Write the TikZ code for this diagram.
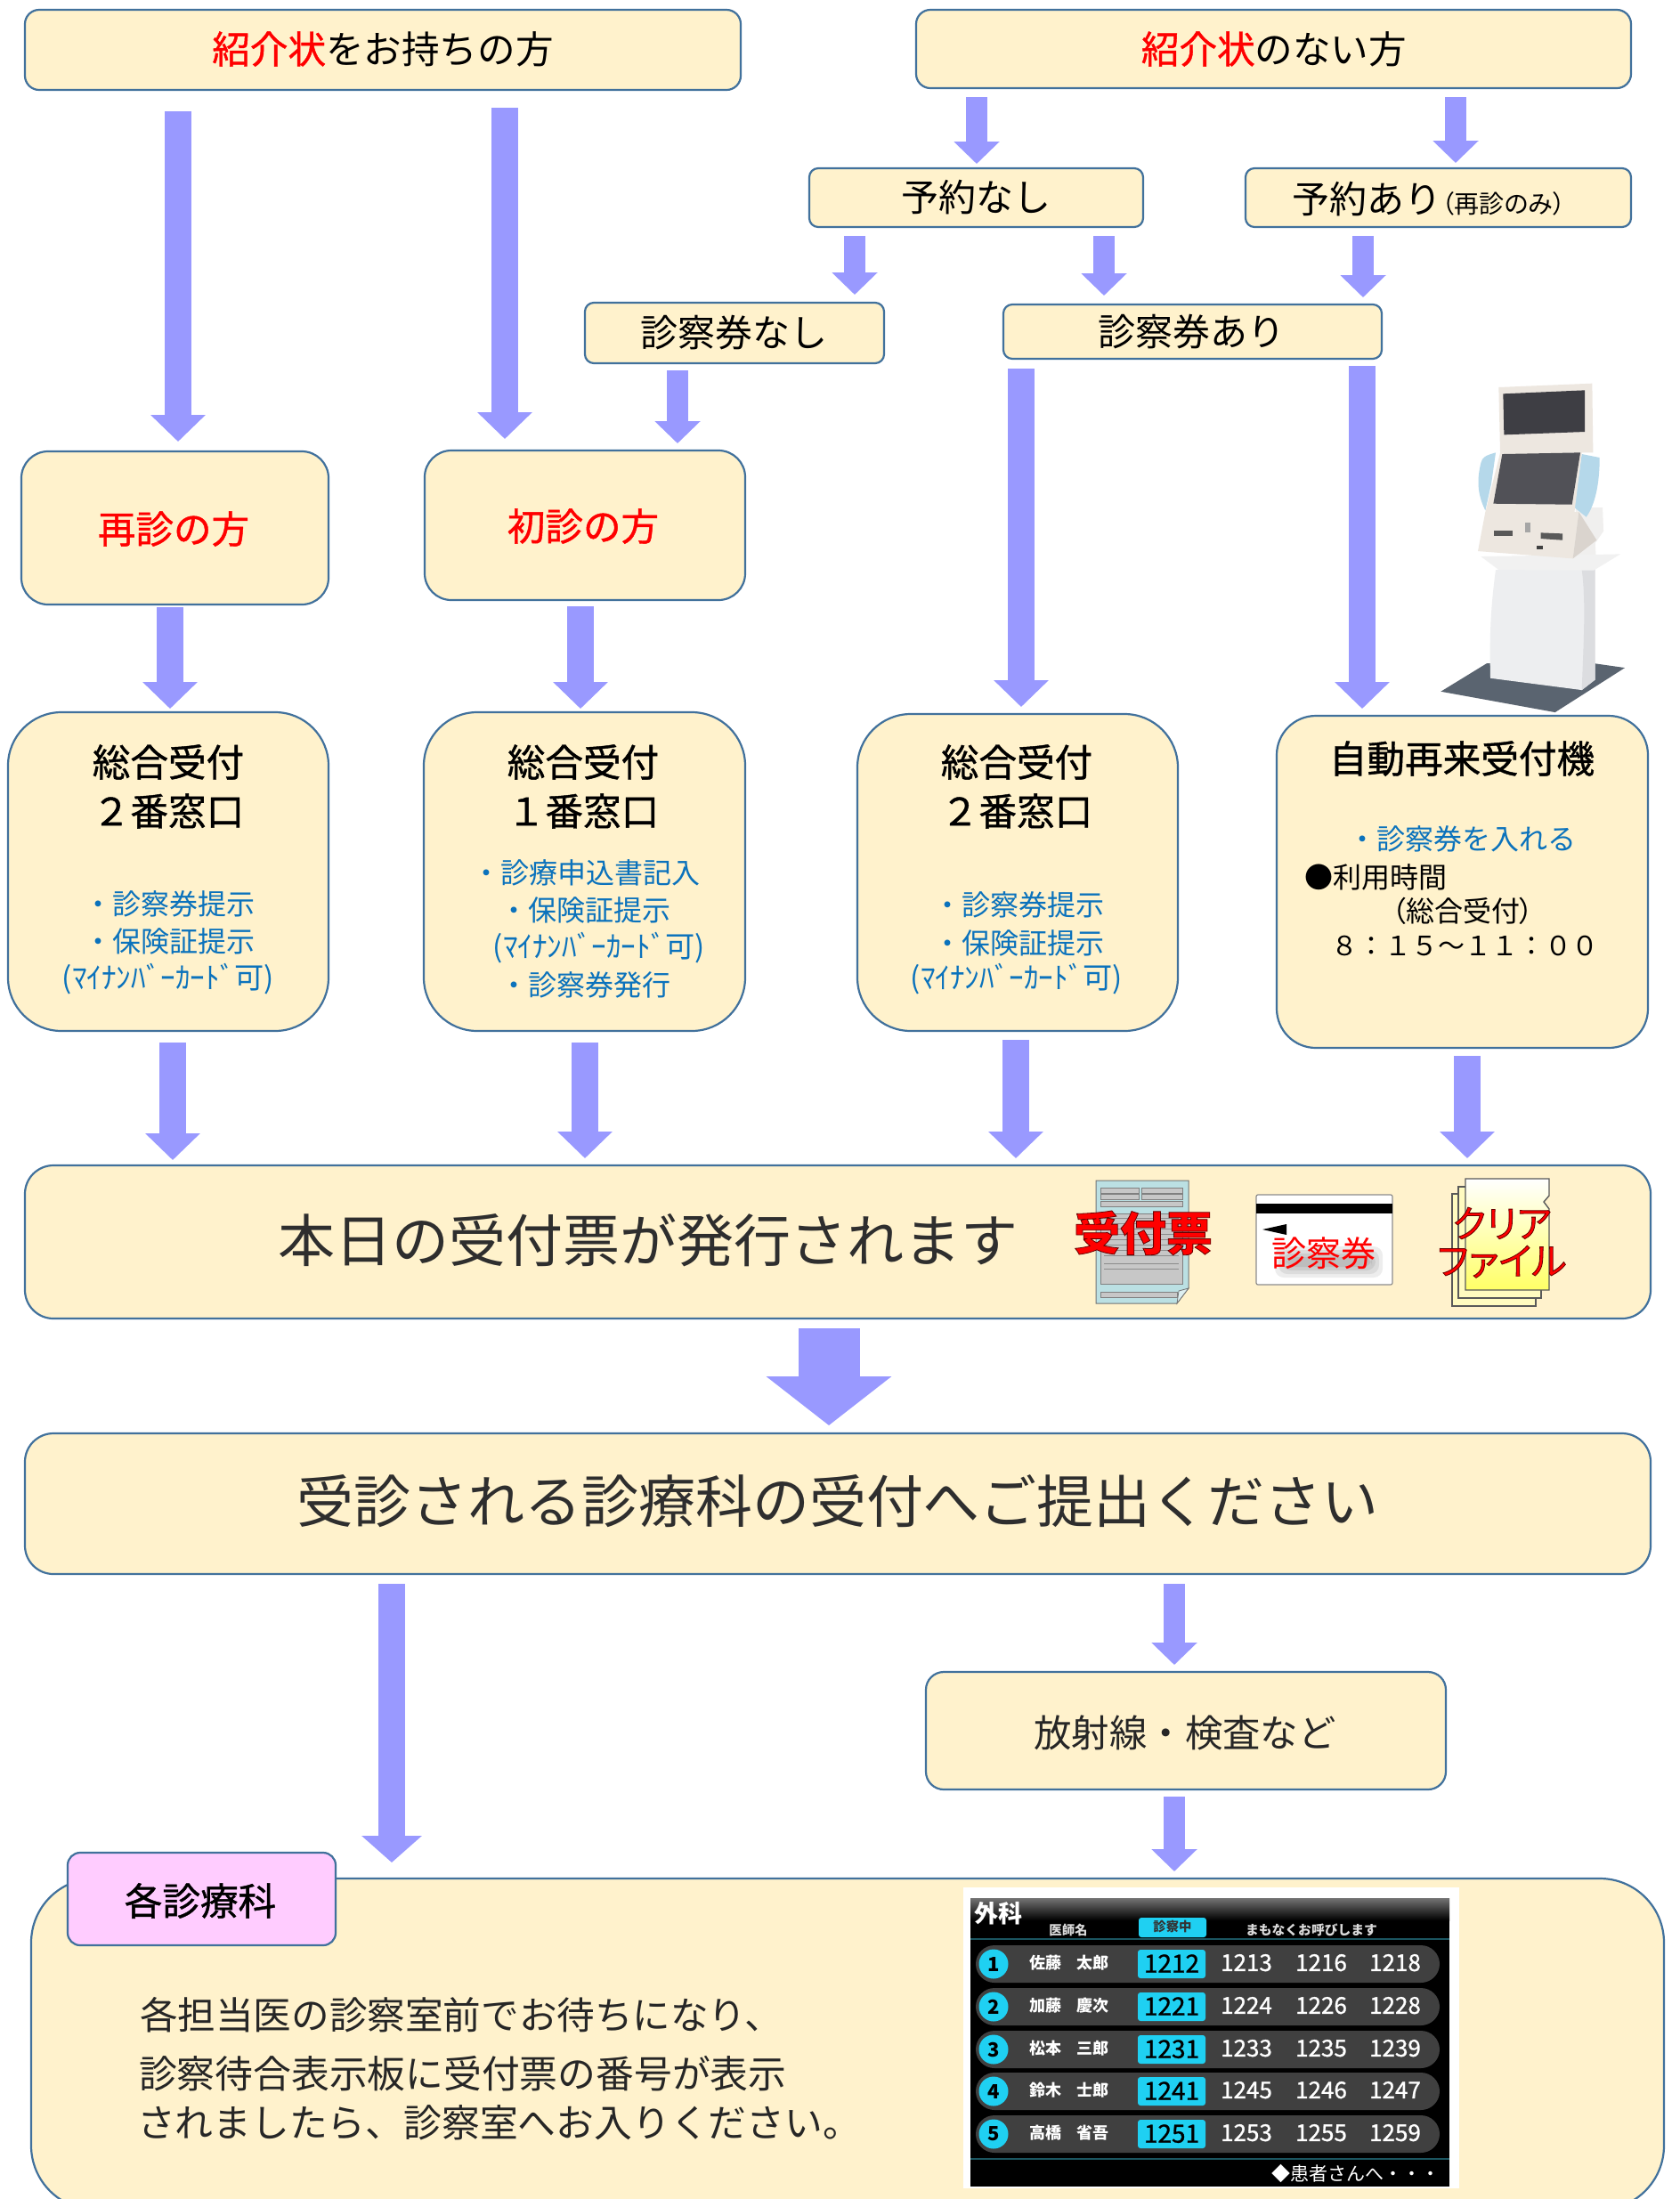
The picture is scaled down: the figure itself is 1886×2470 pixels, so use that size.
\documentclass[tikz,border=0pt]{standalone}
\usepackage{fontspec}
\setmainfont{Noto Sans CJK JP}
\newfontfamily\paltfont{Noto Sans CJK JP}[RawFeature=+palt]
\newfontfamily\medfont{Noto Sans CJK JP}[FakeBold=1.0]
\usetikzlibrary{arrows.meta}
\definecolor{boxfill}{HTML}{FFF2CC}
\definecolor{boxline}{HTML}{41719C}
\definecolor{arrowblue}{HTML}{9999FF}
\definecolor{noteblue}{HTML}{0B72BC}
\definecolor{pinkfill}{HTML}{FFCCFF}
\definecolor{cyanboard}{HTML}{1FD0F2}
\definecolor{paperblue}{HTML}{BBE0E3}
\definecolor{foldblue}{HTML}{DDEFF1}
\definecolor{sheetyellow}{HTML}{FFFBC0}
\definecolor{fileyellow}{HTML}{FFFF66}
\definecolor{kbase}{HTML}{5A6470}
\definecolor{kped}{HTML}{EDEEF0}
\definecolor{kside}{HTML}{DCDDE0}
\definecolor{kshelf}{HTML}{F1F1F1}
\definecolor{kbody}{HTML}{F0EFEE}
\definecolor{kbeige}{HTML}{EDE7E0}
\definecolor{kwing}{HTML}{B5D8EA}
\definecolor{kscreen}{HTML}{3E3E44}
\definecolor{bteal}{HTML}{1B5560}
\tikzset{
  flowbox/.style={draw=boxline,fill=boxfill,line width=1.1pt,inner sep=0pt,outer sep=0pt},
  pinkbox/.style={flowbox,fill=pinkfill},
  txt/.style={inner sep=0pt,outer sep=0pt,anchor=center},
  barrow/.style={draw=arrowblue,line width=15pt,line cap=butt,-{Triangle[length=15pt,width=30pt]}},
  sarrow/.style={draw=arrowblue,line width=12pt,line cap=butt,-{Triangle[length=12.5pt,width=25pt]}},
  bigarrow/.style={draw=arrowblue,line width=34.5pt,line cap=butt,-{Triangle[length=27.5pt,width=69pt]}},
  longarrow/.style={draw=arrowblue,line width=15pt,line cap=butt,-{Triangle[length=15pt,width=33pt]}},
  rowbar/.style={fill=black!75!white,rounded corners=10.5pt},
  cyanchip/.style={fill=cyanboard,rounded corners=1.5pt},
  sheet/.style={draw=black!65,line width=.7pt},
  paperrow/.style={fill=black!22,draw=black!50,line width=.3pt},
}
\newcommand\bx[7][flowbox]{\node[#1,rounded corners=#7pt,minimum width={(#5-#3)*0.5pt},minimum height={(#6-#4)*0.5pt}] (#2) at ({(#3+#5)/2},{(#4+#6)/2}) {};}
\newcommand\tx[6][black]{\node[txt,text=#1,font=\fontsize{#5pt}{#5pt}\selectfont,text height={#5*0.88pt},text depth={#5*0.12pt}] (#2) at (#3,#4) {#6};}
\newcommand\conn[6]{\draw[#1,shorten <={#5*0.5pt},shorten >={#6*0.5pt}] (#2.south -| #4,0) -- (#3.north -| #4,0);}
\newcommand\mycard{(ﾏｲﾅﾝﾊﾞｰｶｰﾄﾞ可)}
\newcommand\outl[1]{\special{pdf:code 2 Tr 0.4 w 0.4 0 0 RG}#1\special{pdf:code 0 Tr}}
\begin{document}
\begin{tikzpicture}[x=0.5pt,y=-0.5pt]
\useasboundingbox (0,0) rectangle (1886,2470);
\clip (0,0) rectangle (1886,2470);
\fill[white] (0,0) rectangle (1886,2470);

% boxes
\bx{A}{28}{11}{832}{101}{8}
\bx{B}{1029}{11}{1832}{99}{8}
\bx{C}{909}{189}{1284}{255}{5}
\bx{D}{1399}{189}{1832}{255}{5}
\bx{E}{657}{340}{993}{408}{5}
\bx{F}{1127}{342}{1552}{403}{5}
\bx{G}{24}{507}{369}{679}{15}
\bx{H}{477}{506}{837}{674}{15}
\bx{I}{9}{800}{369}{1158}{30}
\bx{J}{476}{800}{837}{1158}{30}
\bx{K}{963}{802}{1323}{1158}{30}
\bx{L}{1434}{804}{1851}{1177}{22}
\bx{M}{28}{1309}{1854}{1481}{16}
\bx{N}{28}{1610}{1854}{1768}{16}
\bx{O}{1040}{1878}{1624}{2010}{10}
\bx{P}{35}{2110}{1869}{2482}{36}
\bx[pinkbox]{Q}{76}{2081}{377}{2185}{7}

% connectors
\conn{barrow}{A}{G}{200}{23.5}{11}
\conn{barrow}{A}{H}{567}{20}{13}
\conn{sarrow}{B}{C}{1097}{10}{5}
\conn{sarrow}{B}{D}{1635}{10}{6}
\conn{sarrow}{C}{E}{960}{10}{9}
\conn{sarrow}{C}{F}{1240}{10}{10}
\conn{sarrow}{D}{F}{1531}{10}{8}
\conn{sarrow}{E}{H}{761}{8}{8}
\conn{barrow}{F}{K}{1147}{11}{8}
\conn{barrow}{F}{L}{1530}{8}{8}
\conn{barrow}{G}{I}{191}{3}{4}
\conn{barrow}{H}{J}{652}{7}{4}
\conn{barrow}{I}{M}{194}{13}{6}
\conn{barrow}{J}{M}{657}{13}{8}
\conn{barrow}{K}{M}{1141}{10}{8}
\conn{barrow}{L}{M}{1648}{9}{8}
\conn{bigarrow}{M}{N}{931}{11}{9}
\conn{longarrow}{N}{P}{440}{11}{18}
\conn{sarrow}{N}{O}{1319}{11}{8}
\conn{sarrow}{O}{P}{1319}{8}{8}

% top texts
\tx{tA}{430}{55}{21.3}{\textcolor{red}{\medfont 紹介状}をお持ちの方}
\tx{tB}{1431}{55}{21.3}{\textcolor{red}{\medfont 紹介状}のない方}
\tx{tC}{1096}{222}{21}{予約なし}
\tx{tD}{1605}{224}{21}{予約あり{\fontsize{14pt}{14pt}\selectfont\paltfont （再診のみ）}}
\tx{tE}{824}{374}{21}{診察券なし}
\tx{tF}{1338}{373}{21}{診察券あり}
\tx[red]{tG}{195}{594}{21.3}{\medfont 再診の方}
\tx[red]{tH}{655}{591}{21.3}{\medfont 初診の方}

% counters
\tx{tI1}{189}{856}{21.3}{\medfont 総合受付}
\tx{tI2}{189}{911}{21.3}{\medfont ２番窓口}
\tx[noteblue]{tI3}{190}{1015}{16}{・診察券提示}
\tx[noteblue]{tI4}{190}{1057}{16}{・保険証提示}
\tx[noteblue]{tI5}{189}{1098}{16.6}{\mycard}
\tx{tJ1}{655}{856}{21.3}{\medfont 総合受付}
\tx{tJ2}{655}{911}{21.3}{\medfont １番窓口}
\tx[noteblue]{tJ3}{658}{980}{16}{・診療申込書記入}
\tx[noteblue]{tJ4}{657}{1022}{16}{・保険証提示}
\tx[noteblue]{tJ5}{673}{1063}{16.6}{\mycard}
\tx[noteblue]{tJ6}{657}{1106}{16}{・診察券発行}
\tx{tK1}{1142}{856}{21.3}{\medfont 総合受付}
\tx{tK2}{1142}{911}{21.3}{\medfont ２番窓口}
\tx[noteblue]{tK3}{1144}{1016}{16}{・診察券提示}
\tx[noteblue]{tK4}{1144}{1059}{16}{・保険証提示}
\tx[noteblue]{tK5}{1142}{1098}{16.6}{\mycard}
\tx{tL1}{1642}{852}{21.3}{\medfont 自動再来受付機}
\tx[noteblue]{tL2}{1642}{942}{16}{・診察券を入れる}
\tx{tL3}{1545}{985}{16}{●利用時間}
\tx{tL4}{1643}{1023}{16}{\paltfont （総合受付）}
\tx{tL5}{1645}{1062}{15}{８：１５～１１：００}

% wide bars
\tx[black!82]{tM}{728}{1393}{32}{本日の受付票が発行されます}
\tx[black!82]{tN}{941}{1686}{32}{受診される診療科の受付へご提出ください}
\tx[black!85]{tO}{1331}{1946}{21.2}{放射線・検査など}
\tx{tQ}{225}{2135}{21.3}{\medfont 各診療科}
\node[txt,anchor=west,text=black!85,font=\fontsize{21.3pt}{21.3pt}\selectfont] (tP1) at (157,2263) {各担当医の診察室前でお待ちになり、};
\node[txt,anchor=west,text=black!85,font=\fontsize{21.4pt}{21.4pt}\selectfont] (tP2) at (156,2329) {診察待合表示板に受付票の番号が表示};
\node[txt,anchor=west,text=black!85,font=\fontsize{21.4pt}{21.4pt}\selectfont] (tP3) at (154,2384) {されましたら、診察室へお入りください。};

% receipt icon
\draw[fill=paperblue,draw=black!55,line width=.5pt] (1231,1326) -- (1335,1326) -- (1335,1447) -- (1322,1464) -- (1231,1464) -- cycle;
\foreach \a/\b/\c/\d in {1236/1334/1279/1340,1282/1334/1328/1340,1236/1341/1279/1347,1282/1341/1328/1347,1236/1349/1328/1355,1236/1363/1328/1442,1236/1451/1322/1457}
  \draw[paperrow] (\a,\b) rectangle (\c,\d);
\foreach \y in {1368,1374,...,1412,1419,1425} \draw[black!45,line width=.4pt] (1240,\y) -- (1324,\y);
\draw[fill=foldblue,draw=black!55,line width=.4pt] (1335,1447) -- (1322,1464) -- (1324,1450) -- cycle;
\tx[red]{tPaper}{1284}{1385}{26}{\bfseries\outl{受付票}}

% card icon
\draw[fill=white,draw=black!45,line width=.6pt,rounded corners=1pt] (1411,1342) rectangle (1564,1443);
\fill[black] (1411,1352) rectangle (1564,1363);
\fill[black] (1418,1381) -- (1445,1375) -- (1445,1387) -- cycle;
\foreach \g in {0,4,8,12} \fill[black,opacity=.07,rounded corners=5pt] (1432+\g,1400+\g) rectangle (1553-\g,1435-\g);
\tx[red]{tCard}{1487}{1408}{19.5}{診察券}

% clear file icon
\draw[sheet,fill=sheetyellow] (1631,1341) rectangle (1725,1467);
\draw[sheet,fill=sheetyellow] (1638,1333) rectangle (1731,1458);
\shade[top color=white,bottom color=fileyellow,draw=black!65,line width=.7pt] (1646,1324) -- (1740,1324) -- (1740,1343) -- (1734,1350) -- (1740,1358) -- (1740,1449) -- (1646,1449) -- cycle;
\tx[red]{tFile1}{1687}{1374}{21}{\paltfont\outl{クリア}}
\tx[red]{tFile2}{1687}{1416}{21}{\paltfont\outl{ファイル}}

% kiosk
\begin{scope}[shift={(1600,410)},x=0.1667pt,y=-0.1667pt]
\fill[kbase] (210,1005) -- (55,1100) -- (440,1170) -- (675,1020) -- (570,1005) -- cycle;
\fill[kped] (240,690) .. controls (225,800) and (218,900) .. (222,1055) -- (530,1095) -- (575,1060) -- (575,680) -- cycle;
\fill[kside] (530,690) .. controls (545,800) and (535,950) .. (530,1095) -- (575,1060) -- (575,680) -- cycle;
\fill[kbody] (510,480) -- (600,480) -- (603,560) -- (575,600) -- (578,650) -- (500,650) -- cycle;
\fill[kshelf] (190,645) -- (250,690) -- (570,692) -- (660,637) -- (500,640) -- cycle;
\fill[kbeige] (205,495) -- (520,495) -- (500,652) -- (180,627) -- cycle;
\fill[kbeige!92!black] (520,495) -- (580,590) -- (500,652) -- cycle;
\fill[kwing] (240,295) .. controls (205,305) and (195,310) .. (190,330) .. controls (178,380) and (175,430) .. (205,490) -- (225,400) -- cycle;
\fill[kwing] (530,300) -- (590,312) .. controls (590,400) and (575,470) .. (545,512) -- (505,480) -- cycle;
\fill[kbeige] (250,75) -- (565,62) -- (568,295) -- (530,295) -- (505,497) -- (205,495) -- (255,295) -- cycle;
\fill[kscreen] (265,97) -- (540,85) -- (540,225) -- (268,235) -- cycle;
\fill[kscreen!90!white] (262,300) -- (525,295) -- (497,470) -- (232,467) -- cycle;
\fill[black!65] (233,557) rectangle (297,577);
\fill[black!65] (392,565) -- (465,568) -- (465,590) -- (392,585) -- cycle;
\fill[black!75] (378,610) rectangle (398,622);
\fill[black!35] (338,530) rectangle (358,565);
\end{scope}

% board
\fill[white] (1082,2120) rectangle (1639,2458);
\fill[black] (1090,2132) rectangle (1628,2456);
\shade[top color=black!55,bottom color=black] (1090,2132) rectangle (1628,2157);
\tx[white]{bHead}{1121}{2149}{13.5}{\bfseries 外科}
\tx[black!15]{bDoc}{1200}{2168}{7.2}{\bfseries 医師名}
\fill[cyanchip] (1279,2154) rectangle (1355,2176);
\tx[black!80]{bNow}{1317}{2164}{7.2}{\bfseries 診察中}
\tx[black!15]{bSoon}{1473}{2168}{7.4}{\bfseries まもなくお呼びします}
\draw[bteal,line width=1pt] (1090,2178) -- (1628,2178);
\draw[bteal,line width=1pt] (1090,2425) -- (1628,2425);
\foreach \n/\y/\fa/\fb/\cur/\p/\q/\r in {1/2206/佐藤/太郎/1212/1213/1216/1218,2/2254/加藤/慶次/1221/1224/1226/1228,3/2302/松本/三郎/1231/1233/1235/1239,4/2349/鈴木/士郎/1241/1245/1246/1247,5/2397/高橋/省吾/1251/1253/1255/1259}{
  \fill[rowbar] (1096,\y-21) rectangle (1617,\y+21);
  \node[circle,fill=cyanboard,minimum size=16.5pt,inner sep=0pt,font=\fontsize{11pt}{11pt}\selectfont\bfseries,text=black] (bNum\n) at (1116,\y) {\n};
  \tx[white]{bFam\n}{1174}{\y-1}{9}{\bfseries\fa}
  \tx[white]{bGiv\n}{1227}{\y-1}{9}{\bfseries\fb}
  \fill[cyanchip] (1278,\y-16) rectangle (1354,\y+16);
  \tx[black]{bCur\n}{1316}{\y-1}{14}{\medfont\cur}
  \tx[white]{bP\n}{1400}{\y-2}{13}{\medfont\p}
  \tx[white]{bQ\n}{1484}{\y-2}{13}{\medfont\q}
  \tx[white]{bR\n}{1567}{\y-2}{13}{\medfont\r}
}
\node[txt,anchor=east,text=white,font=\fontsize{10.5pt}{10.5pt}\selectfont] (bFoot) at (1617,2441) {◆患者さんへ・・・};
\end{tikzpicture}
\end{document}
